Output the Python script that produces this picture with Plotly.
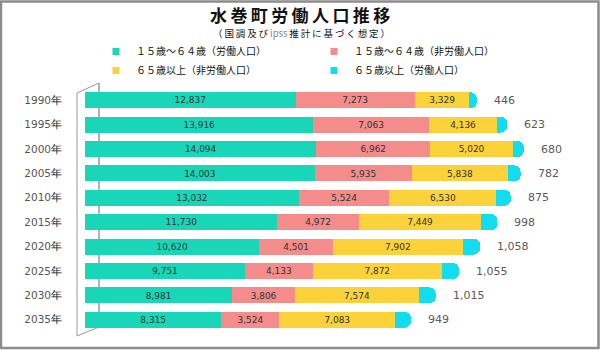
import plotly.graph_objects as go

years = ["1990", "1995", "2000", "2005", "2010", "2015", "2020", "2025", "2030", "2035"]
labor_15_64 = [12837, 13916, 14094, 14003, 13032, 11730, 10620, 9751, 8981, 8315]
nonlabor_15_64 = [7273, 7063, 6962, 5935, 5524, 4972, 4501, 4133, 3806, 3524]
nonlabor_65 = [3329, 4136, 5020, 5838, 6530, 7449, 7902, 7872, 7574, 7083]
labor_65 = [446, 623, 680, 782, 875, 998, 1058, 1055, 1015, 949]

series_names = ["１５歳～６４歳（労働人口）", "１５歳～６４歳（非労働人口）",
                "６５歳以上（非労働人口）", "６５歳以上（労働人口）"]
colors = ["#19d6b8", "#f48c8c", "#fcd23a", "#12dcf0"]

W, H = 600, 350
L, R, T, B = 85, 15, 88, 18
PW, PH = W - L - R, H - T - B


def px(x):
    return (x - L) / PW


def py(y):
    return (H - B - y) / PH


cats = [y + "年" for y in years]
ticktext = [f"<span style='color:#555555'>{y}</span>年" for y in years]

fig = go.Figure()
all_series = [labor_15_64, nonlabor_15_64, nonlabor_65, labor_65]
for i, (name, vals, col) in enumerate(zip(series_names, all_series, colors)):
    fig.add_trace(go.Bar(
        y=cats, x=vals, name=name, orientation="h", showlegend=False,
        marker=dict(color=col, line=dict(width=0)),
        text=[f"{v:,}" for v in vals] if i < 3 else None,
        textposition="inside" if i < 3 else "none",
        insidetextanchor="middle",
        textfont=dict(family="DejaVu Sans", size=10, color="#2e3433"),
    ))

# legend proxies with small square markers
for name, col in zip(series_names, colors):
    fig.add_trace(go.Scatter(x=[None], y=[None], mode="markers", name=name,
                             marker=dict(symbol="square", size=7, color=col),
                             hoverinfo="skip"))

totals = [a + b + c + d for a, b, c, d in zip(*all_series)]
for cat, tot, v in zip(cats, totals, labor_65):
    fig.add_annotation(x=tot, y=cat, text=f"{v:,}", showarrow=False,
                       xanchor="left", xshift=15,
                       font=dict(family="DejaVu Sans", size=11, color="#5a5a5a"))

line_col = "#9a9a9a"
shapes = [
    dict(type="line", xref="paper", yref="paper", x0=px(77), y0=py(93), x1=px(77), y1=py(336),
         line=dict(color=line_col, width=1), layer="below"),
    dict(type="line", xref="paper", yref="paper", x0=px(99), y0=py(83), x1=px(99), y1=py(327),
         line=dict(color=line_col, width=1.5), layer="below"),
    dict(type="line", xref="paper", yref="paper", x0=px(77), y0=py(93), x1=px(99), y1=py(83),
         line=dict(color=line_col, width=1), layer="below"),
    dict(type="line", xref="paper", yref="paper", x0=px(77), y0=py(336), x1=px(99), y1=py(327),
         line=dict(color=line_col, width=1), layer="below"),
    dict(type="rect", xref="paper", yref="paper", x0=px(1), y0=py(1.5), x1=px(598.5), y1=py(348),
         line=dict(color="#8c8c8c", width=2.5), layer="below"),
]

fig.update_layout(
    width=W, height=H,
    margin=dict(l=L, r=R, t=T, b=B),
    paper_bgcolor="white", plot_bgcolor="white",
    barmode="stack", bargap=0.35, barcornerradius=6,
    showlegend=True,
    legend=dict(orientation="h", x=px(96), xanchor="left", y=py(37), yanchor="top",
                entrywidth=173, entrywidthmode="pixels", traceorder="normal",
                font=dict(family="Noto Sans CJK JP", size=10, color="#111111"),
                itemwidth=30, tracegroupgap=0, bgcolor="rgba(0,0,0,0)"),
    xaxis=dict(range=[0, PW / 0.0164], showgrid=False, zeroline=False, showticklabels=False,
               showline=False, fixedrange=True),
    yaxis=dict(type="category", categoryorder="array", categoryarray=cats,
               autorange="reversed", tickvals=cats, ticktext=ticktext,
               showgrid=False, zeroline=False, showline=False, ticks="",
               ticklabelstandoff=22,
               tickfont=dict(family="DejaVu Sans", size=10.5, color="#111111")),
    shapes=shapes,
    font=dict(family="Noto Sans CJK JP"),
)

thin = "\u2009"
title_txt = thin.join("水巻町労働人口推移")
sub_txt = (thin.join("（国調及び") + thin + "<span style='color:#888888'>ipss</span>" + thin
           + thin.join("推計に基づく想定）"))
fig.add_annotation(xref="paper", yref="paper", x=px(300), y=py(15), xanchor="center", yanchor="middle",
                   text=f"<b>{title_txt}</b>", showarrow=False,
                   font=dict(family="Noto Sans CJK JP", size=17, color="#111111"))
fig.add_annotation(xref="paper", yref="paper", x=px(301), y=py(33), xanchor="center", yanchor="middle",
                   text=sub_txt, showarrow=False,
                   font=dict(family="Noto Sans CJK JP", size=9.5, color="#111111"))

fig.write_html("out.html")
